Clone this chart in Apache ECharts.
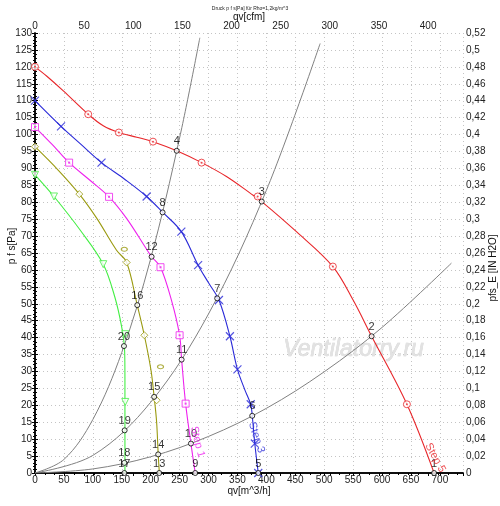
<!DOCTYPE html>
<html><head><meta charset="utf-8">
<script src="https://cdn.jsdelivr.net/npm/echarts@6/dist/echarts.min.js"></script>
<style>html,body{margin:0;padding:0;background:#fff}#c{width:500px;height:506px}</style>
</head><body><div id="c"></div>
<script>
// ---- data (q in m^3/h, p in Pa) ----
const step5Q = [0, 20, 49, 92, 118, 145, 176, 204, 245, 288, 331, 372, 392, 452, 515, 550, 582, 643, 690];
const step5P = [120, 117.3, 112.9, 106, 102.6, 100.6, 99.2, 97.9, 95.2, 91.7, 87.6, 82.7, 80.2, 71.3, 61, 51.1, 40.4, 20.3, 0];
const step5MarkQ = [0, 92, 145, 204, 288, 385, 515, 643];
const step5MarkP = [120, 106, 100.6, 97.9, 91.7, 81.7, 61, 20.3];

const step3Q = [0, 45, 80, 115, 155, 193, 221, 253, 282, 300, 318, 337, 350, 363, 373, 375.6, 380, 386];
const step3P = [110, 102.4, 97, 91.7, 86.8, 81.7, 77, 71.3, 61.4, 56.2, 51.1, 40.4, 30.6, 24.5, 20.3, 16.9, 8.7, 0];
const step3MarkQ = [0, 45, 115, 193, 253, 282, 318, 337, 350, 373, 380, 386];
const step3MarkP = [110, 102.4, 91.7, 81.7, 71.3, 61.4, 51.1, 40.4, 30.6, 20.3, 8.7, 0];

const step1Q = [0, 30, 59, 95, 128, 158, 193, 201.6, 217, 236, 250, 253.5, 260.4, 269.6, 277];
const step1P = [102.2, 97, 91.7, 86.5, 81.6, 75.3, 66.1, 63.9, 60.8, 51, 40.7, 33.5, 20.5, 8.7, 0];
const step1MarkQ = [0, 59, 128, 217, 250, 260.4];
const step1MarkP = [102.2, 91.7, 81.6, 60.8, 40.7, 20.5];

const step0Q = [0, 40, 76.6, 106.6, 141, 158.5, 176.8, 189, 200.5, 206, 210.3, 213, 215];
const step0P = [96.4, 89.5, 82.4, 75.3, 65.8, 62.2, 49.6, 40.7, 30.4, 22.5, 15, 5.5, 0];
const step0MarkQ = [0, 76.6, 158.5, 189, 210.3];
const step0MarkP = [96.4, 82.4, 62.2, 40.7, 21.5];
const step0OvalQ = [154.4, 217];
const step0OvalP = [66.1, 31.4];

const stepGQ = [0, 32.8, 78, 118, 138, 150, 155, 155.5, 155.5];
const stepGP = [88.1, 81.7, 71.8, 61.7, 52, 43, 36, 28, 0];
const stepGMarkQ = [0, 32.8, 118, 156, 156];
const stepGMarkP = [88.1, 81.7, 61.7, 41, 21];

const sysAQ = [0, 100, 200, 300, 400, 500, 600, 720];
const sysAP = [0, 1.2, 4.8, 10.8, 19.1, 29.9, 43, 62];
const sysBQ = [0, 100, 200, 300, 400, 493];
const sysBP = [0, 5.2, 20.9, 47, 83.5, 126.9];
const sysCQ = [0, 50, 100, 150, 200, 250, 285];
const sysCP = [0, 4, 15.8, 35.6, 63.3, 99, 128.6];

const pointNames = ['1','2','3','4','5','6','7','8','9','10','11','12','13','14','15','16','17','18','19','20'];
const pointQ = [690, 582, 392, 245, 386, 375.6, 315, 220.6, 277, 269.6, 253.5, 201.6, 214.8, 213, 206, 176.8, 154.5, 154.5, 155, 153.8];
const pointP = [0, 40.4, 80.2, 95.2, 0, 16.9, 51.6, 77, 0, 8.7, 33.5, 63.9, 0, 5.5, 22.5, 49.6, 0, 3, 12.6, 37.5];

const stepLabels = ['Step 5', 'Step 3', 'Step 1'];
const stepLabelQ = [692, 383, 281];
const stepLabelP = [4.5, 10.5, 9.2];

// ---- chart ----
const FONT = 'Liberation Sans';
const zip = (a, b) => a.map((v, i) => [v, b[i]]);
const RED = '#e8262a', BLUE = '#2a2ad8', MAG = '#ee22ee', OLIVE = '#9a9a10', GREEN = '#44ee44', GRAY = '#808080';

function curve(q, p, color) {
  return { type: 'line', data: zip(q, p), smooth: 0.35, showSymbol: false, silent: true,
    lineStyle: { color: color, width: 1.1 }, z: 3 };
}
function marks(q, p, symbol, color, size, extra) {
  return Object.assign({ type: 'scatter', data: zip(q, p), symbol: symbol, symbolSize: size, silent: true,
    itemStyle: { color: '#fff', borderColor: color, borderWidth: 1 }, z: 4 }, extra || {});
}
const nameStyle = { fontSize: 10, color: '#111', fontFamily: FONT };

const chart = echarts.init(document.getElementById('c'));
chart.setOption({
  animation: false,
  backgroundColor: '#fff',
  title: { text: 'Druck p f s[Pa] für Rho=1,2kg/m^3', left: 'center', top: 1,
    textStyle: { fontSize: 5, fontWeight: 'normal', color: '#222', fontFamily: FONT } },
  grid: { left: 35, right: 37, top: 33, bottom: 33, containLabel: false, outerBoundsMode: 'none' },
  xAxis: [
    { type: 'value', position: 'bottom', min: 0, max: 740, interval: 50,
      name: 'qv[m^3/h]', nameLocation: 'middle', nameGap: 13, nameMoveOverlap: false,
      nameTextStyle: nameStyle,
      axisLine: { lineStyle: { color: '#000', width: 1.5 } },
      axisTick: { show: true, length: 3, lineStyle: { color: '#000' } },
      axisLabel: { fontSize: 10, color: '#222', fontFamily: FONT, margin: 2, showMaxLabel: false },
      splitLine: { show: true, lineStyle: { color: '#c4c4c4', type: [1, 3], width: 1 } } },
    { type: 'value', position: 'top', min: 0, max: 435.5, interval: 50,
      name: 'qv[cfm]', nameLocation: 'middle', nameGap: 11, nameMoveOverlap: false,
      nameTextStyle: nameStyle,
      axisLine: { lineStyle: { color: '#000', width: 1.5 } },
      axisTick: { show: true, inside: true, length: 3, lineStyle: { color: '#000' } },
      minorTick: { show: true, splitNumber: 5, length: 2, lineStyle: { color: '#000' } },
      axisLabel: { fontSize: 10, color: '#222', fontFamily: FONT, margin: 2, showMaxLabel: false },
      splitLine: { show: false } }
  ],
  yAxis: [
    { type: 'value', position: 'left', min: 0, max: 130, interval: 5,
      name: 'p f s[Pa]', nameLocation: 'middle', nameGap: 18, nameMoveOverlap: false,
      nameTextStyle: Object.assign({ padding: [0, 0, 0, 14] }, nameStyle),
      axisLine: { lineStyle: { color: '#000', width: 1.5 } },
      axisTick: { show: true, length: 3, lineStyle: { color: '#000' } },
      minorTick: { show: true, splitNumber: 5, length: 2, lineStyle: { color: '#000' } },
      axisLabel: { fontSize: 10, color: '#222', fontFamily: FONT, margin: 3 },
      splitLine: { show: true, lineStyle: { color: '#c4c4c4', type: [1, 3], width: 1 } } },
    { type: 'value', position: 'right', min: 0, max: 0.52, interval: 0.02,
      name: 'pfs_E [IN H2O]', nameLocation: 'middle', nameGap: 25, nameMoveOverlap: false,
      nameTextStyle: Object.assign({ padding: [0, 30, 0, 0] }, nameStyle),
      axisLine: { lineStyle: { color: '#000', width: 1.5 } },
      axisTick: { show: true, length: 3, lineStyle: { color: '#000' } },
      minorTick: { show: true, splitNumber: 4, length: 2, lineStyle: { color: '#000' } },
      axisLabel: { fontSize: 10, color: '#222', fontFamily: FONT, margin: 3,
        formatter: v => String(+v.toFixed(2)).replace('.', ',') },
      splitLine: { show: false } }
  ],
  graphic: [
    { type: 'text', left: 283, top: 338, z: 1, silent: true,
      style: { text: 'Ventilatorry.ru', font: 'italic 23px "Liberation Sans"', fill: '#e2e2e2',
        stroke: '#d2d2d2', lineWidth: 0.6 } }
  ],
  series: [
    Object.assign(curve(sysAQ, sysAP, GRAY), { lineStyle: { color: GRAY, width: 1 } }),
    Object.assign(curve(sysBQ, sysBP, GRAY), { lineStyle: { color: GRAY, width: 1 } }),
    Object.assign(curve(sysCQ, sysCP, GRAY), { lineStyle: { color: GRAY, width: 1 } }),
    curve(step5Q, step5P, RED),
    curve(step3Q, step3P, BLUE),
    curve(step1Q, step1P, MAG),
    curve(step0Q, step0P, OLIVE),
    curve(stepGQ, stepGP, GREEN),
    marks(step5MarkQ, step5MarkP, 'circle', RED, 7),
    marks(step5MarkQ, step5MarkP, 'circle', RED, 2, { itemStyle: { color: RED }, z: 5 }),
    marks(step3MarkQ, step3MarkP, 'path://M0,0L10,10M10,0L0,10', BLUE, 8,
      { itemStyle: { color: 'none', borderColor: BLUE, borderWidth: 1.2 } }),
    marks(step1MarkQ, step1MarkP, 'rect', MAG, 7),
    marks(step1MarkQ, step1MarkP, 'rect', MAG, 2, { itemStyle: { color: MAG }, z: 5 }),
    marks(step0MarkQ, step0MarkP, 'diamond', OLIVE, 7),
    marks(step0OvalQ, step0OvalP, 'circle', OLIVE, [6, 4]),
    marks(stepGMarkQ, stepGMarkP, 'triangle', GREEN, 7, { symbolRotate: 180 }),
    { type: 'scatter', silent: true, z: 6,
      data: pointNames.map((n, i) => ({ name: n, value: [pointQ[i], pointP[i]] })),
      symbol: 'circle', symbolSize: 5,
      itemStyle: { color: '#fff', borderColor: '#000', borderWidth: 1 },
      label: { show: true, position: 'top', distance: 1, formatter: '{b}',
        fontSize: 11, color: '#000', fontFamily: FONT } },
    { type: 'scatter', silent: true, z: 6, symbolSize: 0,
      data: stepLabels.map((n, i) => ({ name: n, value: [stepLabelQ[i], stepLabelP[i]],
        label: { color: [RED, BLUE, MAG][i], rotate: [-62, -72, -76][i] } })),
      label: { show: true, position: 'inside', formatter: '{b}', fontSize: 11, fontFamily: FONT } }
  ]
});
</script>
</body></html>
